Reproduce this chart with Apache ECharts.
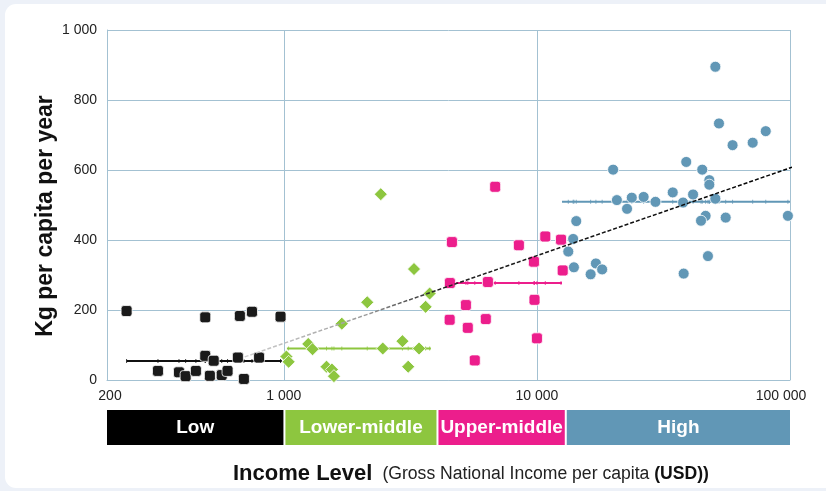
<!DOCTYPE html>
<html>
<head>
<meta charset="utf-8">
<script src="https://cdn.jsdelivr.net/npm/echarts@6/dist/echarts.min.js"></script>
<style>
  html,body{margin:0;padding:0;background:#edf1f8;width:826px;height:491px;overflow:hidden;}
  #card{position:absolute;left:5px;top:4px;width:840px;height:484px;background:#fff;border-radius:11px;}
  #chart{position:absolute;left:0;top:0;width:826px;height:491px;}
</style>
</head>
<body>
<div id="card"></div>
<div id="chart"></div>
<script>
// ---- data (GNI per capita USD, kg per capita per year) ----
const lowPts = [[239,197],[489,179],[670,183],[748,195],[970,181],[318,26],[489,69],[528,55],[385,22],[409,11],[449,26],[510,12],[568,14],[599,26],[658,64],[695,3],[798,64]];
const lowerMidPts = [[2415,531],[3267,317],[2135,222],[3767,247],[3631,209],[1694,161],[1248,103],[1298,88],[2459,90],[2941,111],[3422,90],[1023,67],[1044,52],[1474,38],[1548,30],[1577,11],[3099,38]];
const upperMidPts = [[6839,552],[4613,394],[8485,385],[10790,410],[12450,401],[9730,338],[12640,313],[4530,277],[6400,280],[5240,214],[9780,229],[4520,172],[6280,174],[5330,149],[10000,119],[5680,56]];
const highPts = [[50700,895],[52400,733],[80200,711],[59300,671],[71200,678],[20000,601],[38900,623],[45000,601],[48000,571],[48000,558],[20700,514],[23700,521],[26400,523],[29400,509],[22700,489],[34400,536],[41400,530],[37800,507],[50700,518],[46400,469],[44500,455],[55700,464],[98100,469],[14300,454],[13900,403],[13300,367],[14000,322],[16300,302],[17100,333],[18100,316],[38000,304],[47400,354]];

const lowMean = [[239,54],[982,54]];
const lowerMidMean = [[1028,90],[3810,90]];
const upperMidMean = [[4530,277],[12560,277]];
const highMean = [[12560,509],[100000,509]];

const trend = [[700,66],[117000,623]];

const bandEdges = [200, 1005, 4045, 13000, 100000];
const bandLabels = ['Low', 'Lower-middle', 'Upper-middle', 'High'];
const yTicks = [0, 200, 400, 600, 800, 1000];

const COLORS = ['#000000', '#8dc63f', '#ec1e8c', '#6197b6'];
const GRIDC = '#a3c1d2';
const SANS = "'Liberation Sans',Arial,sans-serif";

function fmt(v){ return String(Math.round(v)).replace(/\B(?=(\d{3})+(?!\d))/g, ' '); }

const bandData = bandLabels.map((l, i) => [bandEdges[i], bandEdges[i+1], i]);

// small tick marks on each group's mean line, at the x of each point in the group
function ticksOn(pts, mean){
  const lo = mean[0][0], hi = mean[1][0], y = mean[0][1];
  return pts.filter(p => p[0] >= lo && p[0] <= hi).map(p => [p[0], y]);
}

const chart = echarts.init(document.getElementById('chart'), null, {renderer:'canvas'});

const scatterBase = (name, data, symbol, size, color) => ({
  name, type:'scatter', xAxisIndex:0, yAxisIndex:0, data, symbol, symbolSize:size,
  itemStyle:{color, borderColor:'#ffffff', borderWidth:0.8, opacity:1}, z:3
});
const meanLine = (data, color) => ({
  type:'line', xAxisIndex:0, yAxisIndex:0, data, symbol:'none',
  lineStyle:{color, width:2}, z:2, silent:true
});
const meanTicks = (pts, mean, color) => ({
  type:'scatter', xAxisIndex:0, yAxisIndex:0, data:ticksOn(pts, mean), symbol:'rect',
  symbolSize:[1,4], itemStyle:{color, opacity:0.8}, z:2, silent:true
});

chart.setOption({
  animation:false,
  backgroundColor:'transparent',
  title:{
    text:'{a|Income Level}  {b|(Gross National Income per capita }{c|(USD))}',
    left:228, top:458,
    textStyle:{
      rich:{
        a:{fontFamily:SANS, fontWeight:'bold', fontSize:22, color:'#111'},
        b:{fontFamily:SANS, fontWeight:'normal', fontSize:17.6, color:'#222'},
        c:{fontFamily:SANS, fontWeight:'bold', fontSize:17.6, color:'#111'}
      }
    }
  },
  grid:[
    {left:107, right:36, top:30, bottom:111},
    {left:107, right:36, top:410, height:35}
  ],
  xAxis:[
    {type:'log', logBase:10, min:200, max:100000, gridIndex:0,
     axisLine:{show:true, lineStyle:{color:GRIDC, width:1}},
     axisTick:{show:false}, minorTick:{show:false},
     splitLine:{show:true, lineStyle:{color:GRIDC, width:1}},
     axisLabel:{
       margin:9, fontSize:14, color:'#222', fontFamily:SANS,
       showMinLabel:true, showMaxLabel:true,
       formatter:function(v){
         const s = fmt(v);
         if (Math.round(v) === 100000) return '{r|' + s + '}';
         if (Math.round(v) === 200) return '{l|' + s + '}';
         return s;
       },
       rich:{
         r:{fontSize:14, color:'#222', fontFamily:SANS, padding:[0,18,0,0]},
         l:{fontSize:14, color:'#222', fontFamily:SANS, padding:[0,0,0,6]}
       }
     }},
    {type:'log', logBase:10, min:200, max:100000, gridIndex:1, show:false}
  ],
  yAxis:[
    {type:'value', min:yTicks[0], max:yTicks[yTicks.length-1], interval:200, gridIndex:0,
     name:'Kg per capita per year', nameLocation:'middle', nameGap:50, nameMoveOverlap:false,
     nameTextStyle:{fontFamily:SANS, fontWeight:'bold', fontSize:23, color:'#111', padding:[0,22,0,0]},
     axisLine:{show:true, lineStyle:{color:GRIDC}},
     axisTick:{show:false},
     splitLine:{show:true, lineStyle:{color:GRIDC, width:1}},
     axisLabel:{margin:10, fontSize:14, color:'#222', fontFamily:SANS, formatter:fmt}},
    {type:'value', min:0, max:1, gridIndex:1, show:false}
  ],
  series:[
    meanLine(lowMean, '#111111'),
    meanLine(lowerMidMean, COLORS[1]),
    meanLine(upperMidMean, COLORS[2]),
    meanLine(highMean, COLORS[3]),
    meanTicks(lowPts, lowMean, '#111111'),
    meanTicks(lowerMidPts, lowerMidMean, COLORS[1]),
    meanTicks(upperMidPts, upperMidMean, COLORS[2]),
    meanTicks(highPts, highMean, COLORS[3]),
    scatterBase('Low', lowPts, 'roundRect', 11, '#1a1a1a'),
    scatterBase('Lower-middle', lowerMidPts, 'diamond', 13, COLORS[1]),
    scatterBase('Upper-middle', upperMidPts, 'roundRect', 11, COLORS[2]),
    scatterBase('High', highPts, 'circle', 11, COLORS[3]),
    {
      type:'line', xAxisIndex:0, yAxisIndex:0, data:trend, symbol:'none', clip:false, z:5, silent:true,
      lineStyle:{width:1.5, type:[4,2],
        color:new echarts.graphic.LinearGradient(0,0,1,0,[
          {offset:0, color:'#cfcfcf'},{offset:0.22, color:'#9a9a9a'},{offset:0.34, color:'#222'},{offset:1, color:'#000'}
        ])}
    },
    {
      type:'custom', xAxisIndex:1, yAxisIndex:1, data:bandData, silent:true,
      renderItem:function(params, api){
        const s = api.value(0), e = api.value(1), i = api.value(2);
        const p0 = api.coord([s, 1]);
        const p1 = api.coord([e, 0]);
        const x0 = p0[0] + (i > 0 ? 1 : 0);
        const x1 = p1[0] - (i < bandLabels.length - 1 ? 1 : 0);
        return {
          type:'rect',
          shape:{x:x0, y:p0[1], width:x1 - x0, height:p1[1] - p0[1]},
          style:{fill:COLORS[i]},
          textContent:{style:{text:bandLabels[i], fill:'#fff', fontFamily:SANS, fontWeight:'bold', fontSize:19}},
          textConfig:{position:'inside'}
        };
      }
    }
  ]
});
</script>
</body>
</html>
